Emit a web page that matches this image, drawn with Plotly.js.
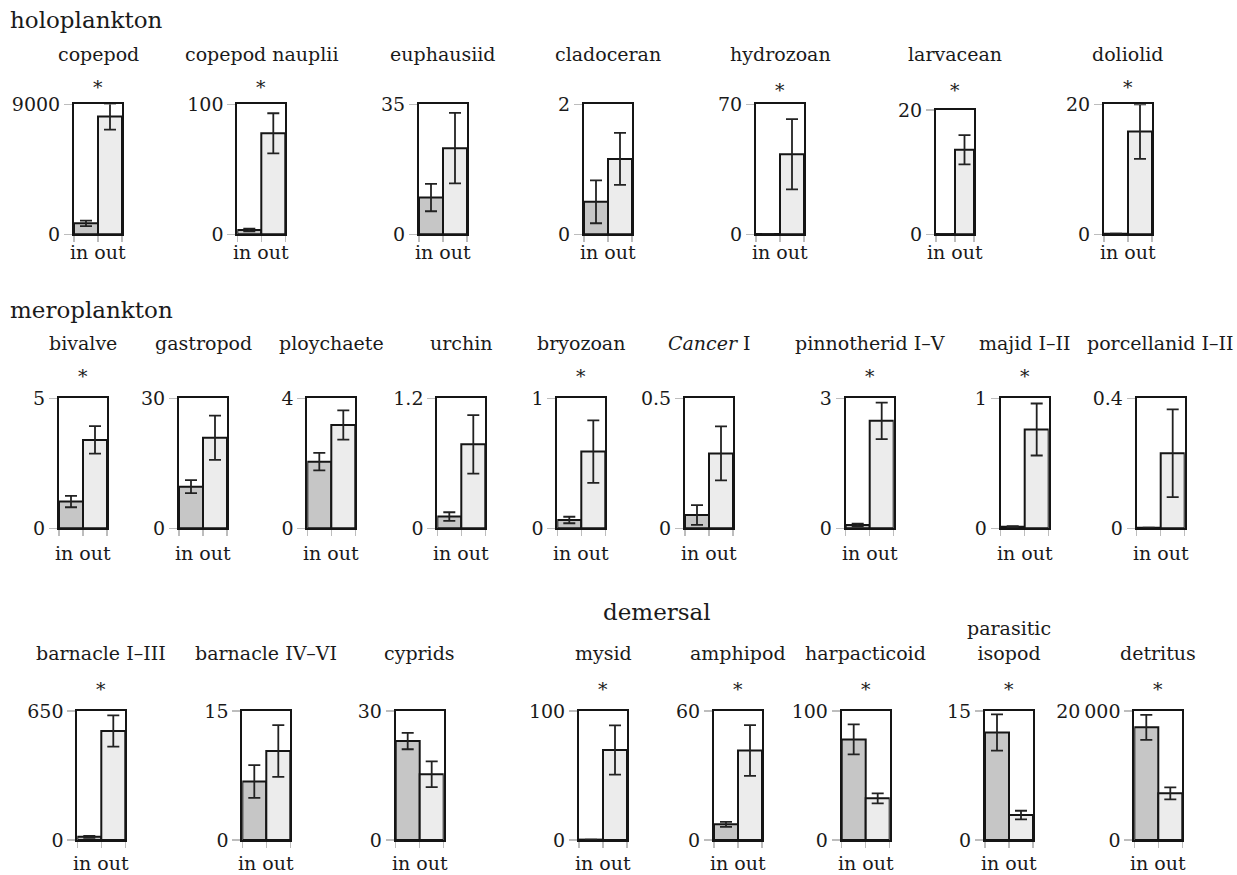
<!DOCTYPE html>
<html>
<head>
<meta charset="utf-8">
<script src="https://cdn.plot.ly/plotly-3.0.1.min.js"></script>
<style>html,body{margin:0;padding:0;background:#fff;}#chart{width:1237px;height:875px;}</style>
</head>
<body>
<div id="chart"></div>
<script>
// ---- data ----
const groups = ['holoplankton', 'meroplankton', 'demersal'];
const taxa = ['copepod', 'copepod nauplii', 'euphausiid', 'cladoceran', 'hydrozoan', 'larvacean', 'doliolid',
  'bivalve', 'gastropod', 'ploychaete', 'urchin', 'bryozoan', '<i>Cancer</i> I', 'pinnotherid I–V', 'majid I–II', 'porcellanid I–II',
  'barnacle I–III', 'barnacle IV–VI', 'cyprids', 'mysid', 'amphipod', 'harpacticoid', 'parasitic<br>isopod', 'detritus'];
const yMax = [9000, 100, 35, 2, 70, 20, 20, 5, 30, 4, 1.2, 1, 0.5, 3, 1, 0.4, 650, 15, 30, 100, 60, 100, 15, 20000];
const yMaxLabel = ['9000', '100', '35', '2', '70', '20', '20', '5', '30', '4', '1.2', '1', '0.5', '3', '1', '0.4', '650', '15', '30', '100', '60', '100', '15', '20\u2009000'];
const categories = ['in', 'out'];
const inMean = [760, 3.3, 9.9, 0.5, 0.2, 0.06, 0.1, 1.03, 9.6, 2.05, 0.108, 0.064, 0.051, 0.077, 0.012, 0.002, 16, 6.8, 23.0, 0.3, 7.3, 78, 12.5, 17470];
const inErr = [190, 1, 3.7, 0.33, 0, 0, 0, 0.22, 1.5, 0.27, 0.04, 0.025, 0.038, 0.03, 0.005, 0, 5, 1.9, 1.9, 0, 1.15, 11.6, 2.1, 1940];
const outMean = [8150, 77.7, 23.2, 1.16, 43.1, 13.6, 15.8, 3.40, 20.9, 3.18, 0.775, 0.59, 0.288, 2.48, 0.76, 0.231, 549, 10.35, 15.3, 69.8, 41.6, 32.3, 2.9, 7235];
const outErr = [900, 15.4, 9.5, 0.4, 18.9, 2.35, 4.2, 0.53, 5.1, 0.45, 0.27, 0.24, 0.104, 0.42, 0.2, 0.135, 79, 3.0, 3.0, 19.1, 11.8, 3.9, 0.5, 930];
const significant = [1, 1, 0, 0, 1, 1, 1, 1, 0, 0, 0, 1, 0, 1, 1, 0, 1, 0, 0, 1, 1, 1, 1, 1];

// ---- layout geometry (pixels) ----
const W = 1237, H = 875;
const rowOf = [0,0,0,0,0,0,0, 1,1,1,1,1,1,1,1,1, 2,2,2,2,2,2,2,2];
const lefts = [74, 237.3, 419, 584, 756, 936, 1104,
  59, 179, 307.3, 437.3, 557.3, 685, 845.7, 1000.7, 1136.7,
  77.3, 242.3, 395.7, 579, 714, 841.7, 985, 1134.3];
const widths = taxa.map((t, i) => i === 5 ? 38 : 48);
const rowTop = [104.3, 398.3, 711];
const rowBottom = [234.3, 528.3, 840];
const rowTitleY = [54, 343, 653];
const rowStarY = [87, 376, 689];
const rowInOutY = [252, 553, 863];

const serif = 'DejaVu Serif';
const inColor = '#c6c6c6', outColor = '#ececec';

const traces = [];
const layout = {
  width: W, height: H,
  margin: {l: 0, r: 0, t: 0, b: 0},
  paper_bgcolor: '#fff', plot_bgcolor: 'rgba(0,0,0,0)',
  showlegend: false,
  bargap: 0,
  annotations: [],
  font: {family: serif, color: '#222'}
};

function ann(text, xpx, ypx, size, opts) {
  layout.annotations.push(Object.assign({
    text: text, x: xpx / W, y: 1 - ypx / H, xref: 'paper', yref: 'paper',
    xanchor: 'center', yanchor: 'middle', showarrow: false,
    font: {family: serif, size: size, color: '#1a1a1a'}
  }, opts || {}));
}

taxa.forEach((name, i) => {
  const k = i + 1;
  const xa = k === 1 ? 'xaxis' : 'xaxis' + k;
  const ya = k === 1 ? 'yaxis' : 'yaxis' + k;
  const r = rowOf[i];
  const l = lefts[i], w = widths[i];
  const top = (i === 5) ? 110 : rowTop[r];
  const bot = rowBottom[r];
  traces.push({
    type: 'bar',
    x: [0.5, 1.5],
    y: [inMean[i], outMean[i]],
    width: [1, 1],
    text: categories,
    hoverinfo: 'text+y',
    textposition: 'none',
    marker: {color: [inColor, outColor], line: {color: '#151515', width: 2}},
    error_y: {type: 'data', array: [inErr[i], outErr[i]], visible: true, color: '#222', thickness: 1.8, width: 6},
    xaxis: 'x' + (k === 1 ? '' : k),
    yaxis: 'y' + (k === 1 ? '' : k)
  });
  layout[xa] = {
    domain: [l / W, (l + w) / W],
    anchor: 'y' + (k === 1 ? '' : k),
    range: [0, 2],
    tickvals: [0, 1, 2], ticktext: ['', '', ''],
    ticks: 'outside', ticklen: 6, tickwidth: 1.5, tickcolor: '#bdbdbd',
    showline: true, mirror: true, linecolor: '#151515', linewidth: 2,
    showgrid: false, zeroline: false, fixedrange: true
  };
  layout[ya] = {
    domain: [1 - bot / H, 1 - top / H],
    anchor: 'x' + (k === 1 ? '' : k),
    range: [0, yMax[i]],
    tickvals: [0, yMax[i]], ticktext: ['0', yMaxLabel[i]],
    ticks: 'outside', ticklen: 8, tickwidth: 1.5, tickcolor: '#bdbdbd',
    tickfont: {family: serif, size: 19, color: '#1a1a1a'},
    showline: true, mirror: true, linecolor: '#151515', linewidth: 2,
    showgrid: false, zeroline: false, fixedrange: true
  };
  const cx = l + w / 2;
  ann(name, cx, (i === 22) ? 640 : rowTitleY[r], 19);
  if (significant[i]) ann('*', cx, (i === 5 || i === 4) ? rowStarY[r] + 3 : rowStarY[r], 19);
  ann('in out', cx, rowInOutY[r], 19);
});

ann(groups[0], 8, 20, 23, {xanchor: 'left'});
ann(groups[1], 8, 310, 23, {xanchor: 'left'});
ann(groups[2], 657, 612, 23);

Plotly.newPlot('chart', traces, layout, {staticPlot: true});
</script>
</body>
</html>
